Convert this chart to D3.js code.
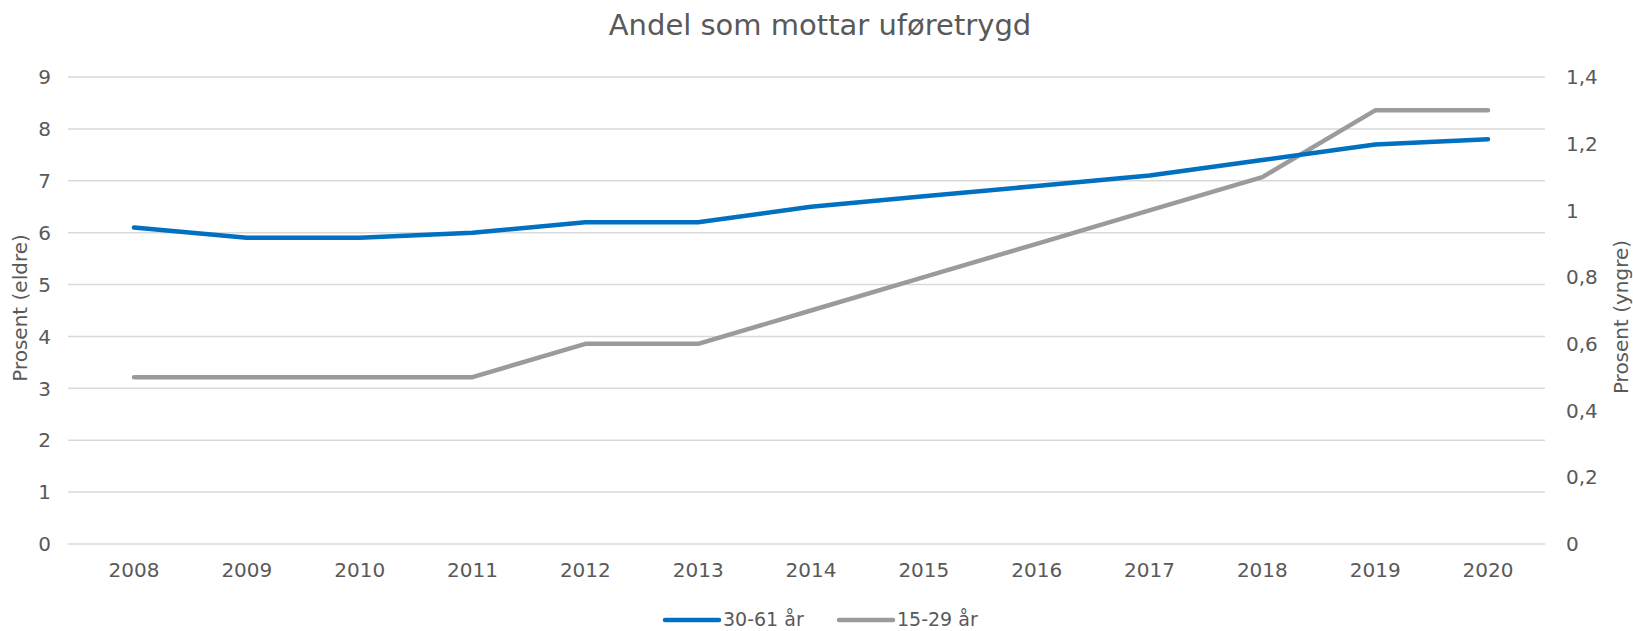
<!DOCTYPE html>
<html>
<head>
<meta charset="utf-8">
<script src="https://cdn.jsdelivr.net/npm/d3@7"></script>
<style>
  body { margin: 0; background: #fff; }
  svg text { font-family: "DejaVu Sans", "Noto Sans", sans-serif; fill: #595959; }
  .grid line { stroke: #d9d9d9; stroke-width: 1.5; }
</style>
</head>
<body>
<svg id="chart" width="1633" height="631"></svg>
<script>
const years = ["2008", "2009", "2010", "2011", "2012", "2013", "2014", "2015", "2016", "2017", "2018", "2019", "2020"]
const eldre = [6.1, 5.9, 5.9, 6.0, 6.2, 6.2, 6.5, 6.7, 6.9, 7.1, 7.4, 7.7, 7.8]
const yngre = [0.5, 0.5, 0.5, 0.5, 0.6, 0.6, 0.7, 0.8, 0.9, 1.0, 1.1, 1.3, 1.3]
const leftTicks = [0, 1, 2, 3, 4, 5, 6, 7, 8, 9]
const rightTicks = [0, 0.2, 0.4, 0.6, 0.8, 1, 1.2, 1.4]
const seriesNames = ["30-61 år", "15-29 år"]
const colours = ["#0070c0", "#9b9b9e"]

const svg = d3.select("#chart")
const plot = { left: 68, right: 1545, top: 77, bottom: 544 }

const x = d3.scalePoint()
  .domain(years)
  .range([134, 1488])

const yL = d3.scaleLinear()
  .domain([0, 9])
  .range([plot.bottom, plot.top])

const yR = d3.scaleLinear()
  .domain([0, 1.4])
  .range([plot.bottom, plot.top])

// horizontal gridlines
svg.append("g")
  .attr("class", "grid")
  .selectAll("line")
  .data(leftTicks)
  .join("line")
  .attr("x1", plot.left)
  .attr("x2", plot.right)
  .attr("y1", d => yL(d))
  .attr("y2", d => yL(d))

// left axis labels
svg.append("g")
  .selectAll("text")
  .data(leftTicks)
  .join("text")
  .attr("x", 51)
  .attr("y", d => yL(d))
  .attr("dy", "0.36em")
  .attr("text-anchor", "end")
  .style("font-size", "20px")
  .text(d => d)

// right axis labels
const fmt = d => String(d).replace(".", ",")
svg.append("g")
  .selectAll("text")
  .data(rightTicks)
  .join("text")
  .attr("x", 1566)
  .attr("y", d => yR(d))
  .attr("dy", "0.36em")
  .attr("text-anchor", "start")
  .style("font-size", "20px")
  .text(fmt)

// x labels
svg.append("g")
  .selectAll("text")
  .data(years)
  .join("text")
  .attr("x", d => x(d))
  .attr("y", 570)
  .attr("dy", "0.36em")
  .attr("text-anchor", "middle")
  .style("font-size", "20px")
  .text(d => d)

// axis titles
svg.append("text")
  .attr("transform", "translate(27,308) rotate(-90)")
  .attr("text-anchor", "middle")
  .style("font-size", "20px")
  .text("Prosent (eldre)")

svg.append("text")
  .attr("transform", "translate(1628,317) rotate(-90)")
  .attr("text-anchor", "middle")
  .style("font-size", "20px")
  .text("Prosent (yngre)")

// title
svg.append("text")
  .attr("x", 820)
  .attr("y", 35)
  .attr("text-anchor", "middle")
  .style("font-size", "29px")
  .text("Andel som mottar uføretrygd")

// lines
const lineL = d3.line()
  .x((d, i) => x(years[i]))
  .y(d => yL(d))
const lineR = d3.line()
  .x((d, i) => x(years[i]))
  .y(d => yR(d))

svg.append("path")
  .datum(yngre)
  .attr("d", lineR)
  .attr("fill", "none")
  .attr("stroke", colours[1])
  .attr("stroke-width", 4.5)
  .attr("stroke-linecap", "round")
  .attr("stroke-linejoin", "round")

svg.append("path")
  .datum(eldre)
  .attr("d", lineL)
  .attr("fill", "none")
  .attr("stroke", colours[0])
  .attr("stroke-width", 4.5)
  .attr("stroke-linecap", "round")
  .attr("stroke-linejoin", "round")

// legend
const legendX = [665, 839]
const leg = svg.append("g")
  .selectAll("g")
  .data(seriesNames)
  .join("g")
  .attr("transform", (d, i) => "translate(" + legendX[i] + ",620)")
leg.append("line")
  .attr("x1", 0)
  .attr("x2", 54)
  .attr("stroke", (d, i) => colours[i])
  .attr("stroke-width", 4.5)
  .attr("stroke-linecap", "round")
leg.append("text")
  .attr("x", 58)
  .attr("dy", "0.33em")
  .style("font-size", "19px")
  .text(d => d)
</script>
</body>
</html>
